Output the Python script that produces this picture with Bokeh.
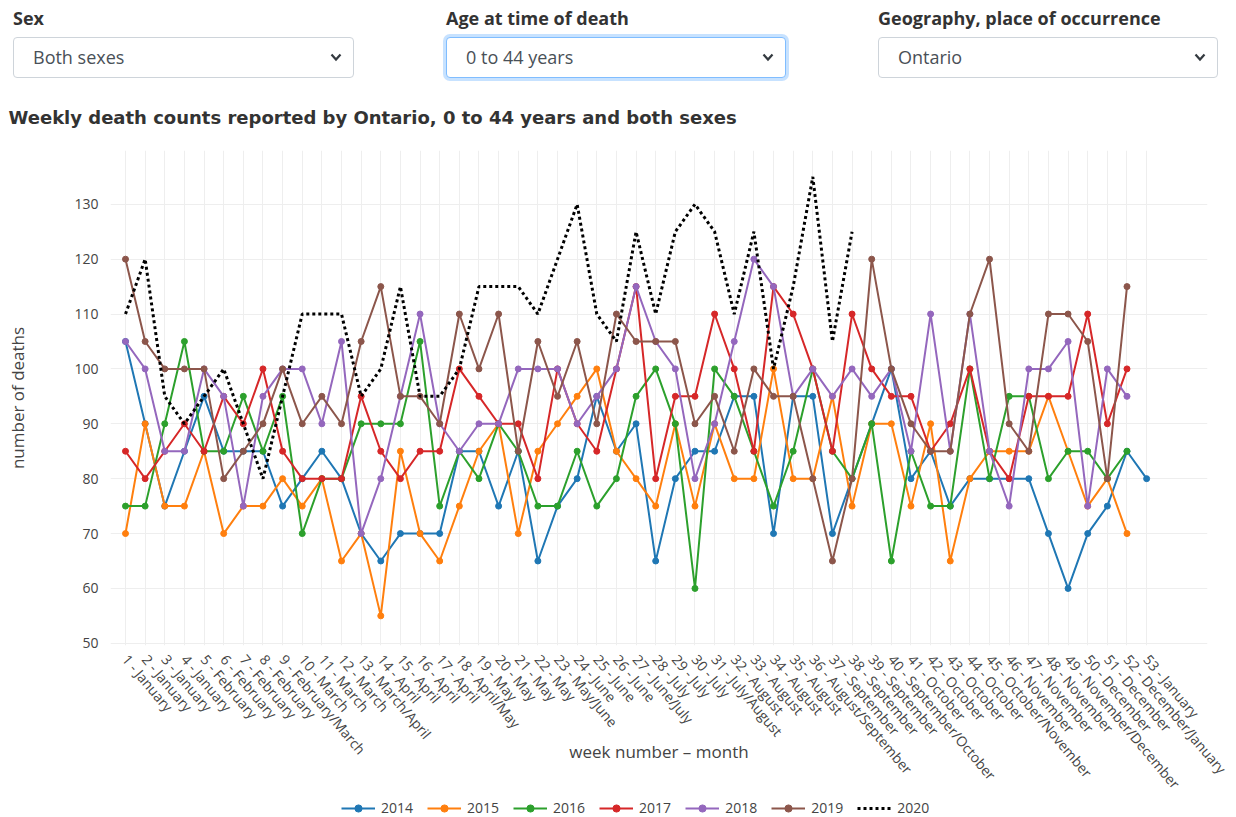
import math
from bokeh.plotting import figure
from bokeh.models import Range1d, FixedTicker, Legend, LegendItem, Div
from bokeh.layouts import column
from bokeh.embed import file_html
from bokeh.resources import INLINE

# ---------------- data ----------------
weeks = list(range(1, 54))
months = (["January"] * 4 + ["February"] * 4 + ["February/March"] + ["March"] * 3 + ["March/April"]
          + ["April"] * 4 + ["April/May"] + ["May"] * 4 + ["May/June"] + ["June"] * 3 + ["June/July"]
          + ["July"] * 3 + ["July/August"] + ["August"] * 4 + ["August/September"] + ["September"] * 3
          + ["September/October"] + ["October"] * 4 + ["October/November"] + ["November"] * 3
          + ["November/December"] + ["December"] * 2 + ["December/January"] + ["January"])
tick_labels = [f"{w} - {m}" for w, m in zip(weeks, months)]
y_ticks = [50, 60, 70, 80, 90, 100, 110, 120, 130]

d2014 = [105, 90, 75, 85, 95, 85, 85, 85, 75, 80, 85, 80, 70, 65, 70, 70, 70, 85, 85, 75,
         85, 65, 75, 80, 95, 85, 90, 65, 80, 85, 85, 95, 95, 70, 95, 95, 70, 80, 90, 100,
         80, 85, 75, 80, 80, 80, 80, 70, 60, 70, 75, 85, 80]
d2015 = [70, 90, 75, 75, 85, 70, 75, 75, 80, 75, 80, 65, 70, 55, 85, 70, 65, 75, 85, 90,
         70, 85, 90, 95, 100, 85, 80, 75, 90, 75, 90, 80, 80, 100, 80, 80, 95, 75, 90, 90,
         75, 90, 65, 80, 85, 85, 85, 95, 85, 75, 80, 70]
d2016 = [75, 75, 90, 105, 85, 85, 95, 85, 95, 70, 80, 80, 90, 90, 90, 105, 75, 85, 80, 90,
         85, 75, 75, 85, 75, 80, 95, 100, 90, 60, 100, 95, 85, 75, 85, 100, 85, 80, 90, 65,
         85, 75, 75, 100, 80, 95, 95, 80, 85, 85, 80, 85]
d2017 = [85, 80, 85, 90, 85, 95, 90, 100, 85, 80, 80, 80, 95, 85, 80, 85, 85, 100, 95, 90,
         90, 80, 100, 90, 85, 100, 115, 80, 95, 95, 110, 100, 85, 115, 110, 100, 85, 110, 100, 95,
         95, 85, 90, 100, 85, 80, 95, 95, 95, 110, 90, 100]
d2018 = [105, 100, 85, 85, 100, 95, 75, 95, 100, 100, 90, 105, 70, 80, 95, 110, 90, 85, 90, 90,
         100, 100, 100, 90, 95, 100, 115, 105, 100, 80, 90, 105, 120, 115, 95, 100, 95, 100, 95, 100,
         85, 110, 85, 110, 85, 75, 100, 100, 105, 75, 100, 95]
d2019 = [120, 105, 100, 100, 100, 80, 85, 90, 100, 90, 95, 90, 105, 115, 95, 95, 90, 110, 100, 110,
         85, 105, 95, 105, 90, 110, 105, 105, 105, 90, 95, 85, 100, 95, 95, 80, 65, 80, 120, 100,
         90, 85, 85, 110, 120, 90, 85, 110, 110, 105, 80, 115]
d2020 = [110, 120, 95, 90, 95, 100, 90, 80, 95, 110, 110, 110, 95, 100, 115, 95, 95, 100, 115, 115,
         115, 110, 120, 130, 110, 105, 125, 110, 125, 130, 125, 110, 125, 100, 115, 135, 105, 125]

years = ["2014", "2015", "2016", "2017", "2018", "2019", "2020"]
series = [d2014, d2015, d2016, d2017, d2018, d2019, d2020]
colors = ["#1f77b4", "#ff7f0e", "#2ca02c", "#d62728", "#9467bd", "#8c564b", "#000000"]

sel_titles = ["Sex", "Age at time of death", "Geography, place of occurrence"]
sel_values = ["Both sexes", "0 to 44 years", "Ontario"]
chart_title = "Weekly death counts reported by Ontario, 0 to 44 years and both sexes"
y_title = "number of deaths"
x_title = "week number \u2013 month"

FONT = "Open Sans"
W = 1236
HEAD_H = 81
FOOT_H = 24
MAIN_H = 817 - HEAD_H - FOOT_H

# ---------------- header: the three filter dropdowns ----------------
box_left = [13, 446, 878]
box_width = [341, 340, 340]
focused = [False, True, False]

parts = []
for x, w, t, v, foc in zip(box_left, box_width, sel_titles, sel_values, focused):
    border = "#80bdff" if foc else "#ced4da"
    shadow = "box-shadow:0 0 0 3px rgba(0,123,255,0.22);" if foc else ""
    parts.append(
        f'<div style="position:absolute;left:{x}px;top:5px;font-weight:700;font-size:18px;'
        f'color:#333333;line-height:26px;white-space:nowrap;">{t}</div>'
        f'<div style="position:absolute;left:{x}px;top:37px;width:{w}px;height:41px;box-sizing:border-box;'
        f'border:1px solid {border};border-radius:4px;background:#ffffff;{shadow}">'
        f'<span style="position:absolute;left:19px;top:0px;line-height:39px;font-size:18px;'
        f'color:#495057;white-space:nowrap;">{v}</span>'
        f'<svg style="position:absolute;right:11px;top:15px" width="12" height="9">'
        f'<polyline points="1.5,1.5 6,6.5 10.5,1.5" fill="none" stroke="#343a40" stroke-width="2.2"/></svg>'
        '</div>')
header_html = (f'<div style="position:relative;width:{W}px;height:{HEAD_H}px;'
               f"font-family:'Open Sans',sans-serif;\">" + "".join(parts) + "</div>")
head = Div(text=header_html, width=W, height=HEAD_H, margin=(0, 0, 0, 0))

# ---------------- main chart ----------------
p = figure(width=W, height=MAIN_H, x_range=Range1d(0.236, 56.1), y_range=Range1d(49.6, 139.8),
           output_backend="svg", toolbar_location=None,
           min_border_left=110, min_border_right=29, min_border_top=69,
           min_border_bottom=MAIN_H + HEAD_H - 645,
           outline_line_color=None, background_fill_color="white", border_fill_color="white")

p.title.text = chart_title
p.title.align = "left"
p.title.offset = -102
p.title.standoff = 45
p.title.text_font = "DejaVu Sans"
p.title.text_font_style = "bold"
p.title.text_font_size = "18px"
p.title.text_color = "#333333"

p.xaxis.ticker = FixedTicker(ticks=weeks)
p.xaxis.major_label_overrides = {w: t for w, t in zip(weeks, tick_labels)}
p.xaxis.major_label_orientation = -math.radians(50)
p.yaxis.ticker = FixedTicker(ticks=y_ticks)

for ax in (p.xaxis, p.yaxis):
    ax.axis_line_color = None
    ax.major_tick_line_color = None
    ax.minor_tick_line_color = None
    ax.major_label_text_font = FONT
    ax.major_label_text_font_size = "14px"
    ax.major_label_text_color = "#444444"
    ax.axis_label_text_font = FONT
    ax.axis_label_text_font_size = "17px"
    ax.axis_label_text_font_style = "normal"
    ax.axis_label_text_color = "#444444"
p.xaxis.major_label_standoff = 5
p.yaxis.major_label_standoff = 6
p.yaxis.axis_label = y_title
p.yaxis.axis_label_standoff = 42
p.xaxis.axis_label = x_title
p.xaxis.axis_label_standoff = -62

p.xgrid.grid_line_color = "#eeeeee"
p.ygrid.grid_line_color = "#eeeeee"

for yr, vals, col in zip(years, series, colors):
    xs = weeks[:len(vals)]
    if yr == "2020":
        p.line(xs, vals, line_color=col, line_width=3, line_dash="3 3")
    else:
        p.line(xs, vals, line_color=col, line_width=2)
        p.scatter(xs, vals, size=6, fill_color=col, line_color=col)

# ---------------- footer: legend (same series, drawn outside this strip's ranges) ----------------
foot = figure(width=W, height=FOOT_H, x_range=Range1d(-1, 0), y_range=Range1d(-1, 0),
              x_axis_type=None, y_axis_type=None, output_backend="svg", toolbar_location=None,
              min_border_left=110, min_border_right=29, min_border_top=0, min_border_bottom=0,
              outline_line_color=None, background_fill_color="white", border_fill_color="white")
foot.grid.visible = False
items = []
for yr, vals, col in zip(years, series, colors):
    xs = weeks[:len(vals)]
    if yr == "2020":
        rl = foot.line(xs, vals, line_color=col, line_width=3, line_dash="3 3")
        items.append(LegendItem(label=yr, renderers=[rl]))
    else:
        rl = foot.line(xs, vals, line_color=col, line_width=2)
        rs = foot.scatter(xs, vals, size=6, fill_color=col, line_color=col)
        items.append(LegendItem(label=yr, renderers=[rl, rs]))
legend = Legend(items=items, orientation="horizontal", location=(231, 0),
                label_text_font=FONT, label_text_font_size="14px", label_text_color="#444444",
                glyph_width=34, glyph_height=18, label_height=18, label_standoff=6, spacing=14,
                padding=0, margin=0, border_line_color=None, background_fill_alpha=0.0)
foot.add_layout(legend, "center")

layout = column(head, p, foot, spacing=0)
open("out.html", "w").write(file_html(layout, INLINE))
